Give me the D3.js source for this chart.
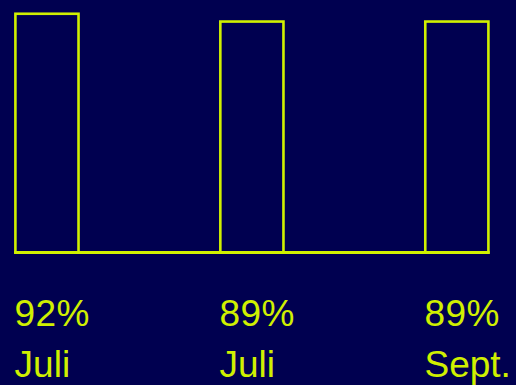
<!DOCTYPE html>
<html>
<head>
<meta charset="utf-8">
<script src="https://cdn.jsdelivr.net/npm/d3@7"></script>
<style>
html,body{margin:0;padding:0;background:#000050;}
svg{display:block;}
</style>
</head>
<body>
<script>
const categories = ["Juli", "Juli", "Sept."];
const values = [92, 89, 89];
const valueLabels = ["92%", "89%", "89%"];

const W = 516, H = 385;
const color = "#d0f000";
const bg = "#000050";

const svg = d3.select("body").append("svg")
  .attr("width", W).attr("height", H)
  .style("background", bg);

svg.append("rect").attr("width", W).attr("height", H).attr("fill", bg);

const x = d3.scaleBand()
  .domain(d3.range(categories.length))
  .range([15.4, 488.4])
  .paddingInner(0.692)
  .paddingOuter(0);

const y = d3.scaleLinear().domain([0, 100]).range([252.5, -7]);

const sw = 2.6;

svg.selectAll("rect.bar")
  .data(values)
  .join("rect")
  .attr("class", "bar")
  .attr("x", (d, i) => x(i))
  .attr("y", d => y(d))
  .attr("width", x.bandwidth())
  .attr("height", d => y(0) - y(d))
  .attr("fill", "none")
  .attr("stroke", color)
  .attr("stroke-width", sw);

svg.append("line")
  .attr("x1", x(0) - sw / 2)
  .attr("x2", x(categories.length - 1) + x.bandwidth() + sw / 2)
  .attr("y1", y(0)).attr("y2", y(0))
  .attr("stroke", color)
  .attr("stroke-width", 3);

const font = "'Liberation Sans', Arial, Helvetica, sans-serif";

svg.selectAll("text.val")
  .data(valueLabels)
  .join("text")
  .attr("class", "val")
  .attr("x", (d, i) => x(i) - 0.8)
  .attr("y", 326)
  .attr("fill", color)
  .style("font-family", font)
  .style("font-size", "37px")
  .style("letter-spacing", "0.4px")
  .text(d => d);

svg.selectAll("text.cat")
  .data(categories)
  .join("text")
  .attr("class", "cat")
  .attr("x", (d, i) => x(i) - 0.8)
  .attr("y", 377)
  .attr("fill", color)
  .style("font-family", font)
  .style("font-size", "37px")
  .text(d => d);
</script>
</body>
</html>
